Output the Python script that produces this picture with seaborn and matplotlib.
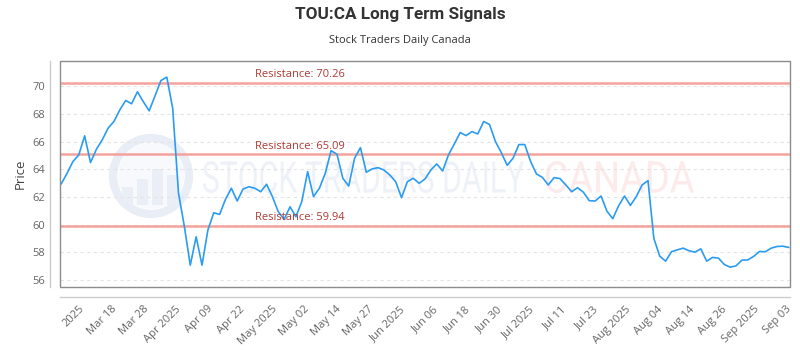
import matplotlib
matplotlib.use("Agg")
import matplotlib.pyplot as plt
import matplotlib.patches as mpatches
from matplotlib.textpath import TextPath
from matplotlib.font_manager import FontProperties
from matplotlib.transforms import Affine2D
import numpy as np
import pandas as pd
import seaborn as sns

# closing prices (trading days, Mar 2025 -> Sep 2025)
prices = [62.95, 63.72, 64.57, 65.05, 66.43, 64.50, 65.46, 66.14, 66.99, 67.47,
          68.31, 68.99, 68.75, 69.62, 68.90, 68.24, 69.33, 70.43, 70.68, 68.43,
          62.27, 59.86, 57.08, 59.13, 57.08, 59.62, 60.87, 60.75, 61.84, 62.64,
          61.72, 62.59, 62.75, 62.64, 62.39, 62.93, 62.03, 60.94, 60.39, 61.30,
          60.58, 61.67, 63.84, 62.03, 62.64, 63.72, 65.36, 65.10, 63.36, 62.80,
          64.81, 65.58, 63.80, 64.04, 64.13, 63.96, 63.60, 63.12, 61.96, 63.12,
          63.36, 63.00, 63.31, 63.96, 64.40, 63.89, 65.05, 65.85, 66.67, 66.45,
          66.74, 66.57, 67.47, 67.25, 66.02, 65.22, 64.30, 64.81, 65.80, 65.80,
          64.57, 63.67, 63.43, 62.88, 63.41, 63.34, 62.88, 62.39, 62.68, 62.35,
          61.74, 61.72, 62.08, 60.99, 60.44, 61.38, 62.08, 61.40, 62.03, 62.88,
          63.19, 59.01, 57.73, 57.37, 58.05, 58.19, 58.31, 58.12, 58.02, 58.26,
          57.37, 57.64, 57.59, 57.13, 56.93, 57.03, 57.44, 57.46, 57.71, 58.07,
          58.05, 58.31, 58.43, 58.45, 58.36]

resistance = [70.26, 65.09, 59.94]

tick_labels = ["2025", "Mar 18", "Mar 28", "Apr 2025", "Apr 09", "Apr 22",
               "May 2025", "May 02", "May 14", "May 27", "Jun 2025", "Jun 06",
               "Jun 18", "Jun 30", "Jul 2025", "Jul 11", "Jul 23", "Aug 2025",
               "Aug 04", "Aug 14", "Aug 26", "Sep 2025", "Sep 03"]

df = pd.DataFrame({"day": np.arange(len(prices)), "price": prices})

sns.set_style("white")
plt.rcParams['font.family'] = ['Open Sans', 'DejaVu Sans']

fig = plt.figure(figsize=(8, 3.5), dpi=100)
ax = fig.add_axes([0.075, 0.18, 0.9125, 0.646])

# offset axis lines first (set_position resets the ticks)
for side in ["top", "right"]:
    ax.spines[side].set_visible(False)
for side in ["left", "bottom"]:
    ax.spines[side].set_position(("outward", 7))
    ax.spines[side].set_color("#cccccc")
    ax.spines[side].set_linewidth(1)


def watermark(text, x0, x1, ytop, ybot, color):
    # squeeze the word into a pixel box (narrow lettering like the logo)
    tp = TextPath((0, 0), text, size=1, prop=FontProperties(family="Roboto"))
    ext = tp.get_extents()
    sx = (x1 - x0) / ext.width
    sy = (ybot - ytop) / ext.height
    tr = (Affine2D().translate(-ext.x0, -ext.y0).scale(sx, sy)
          .translate(x0, 350 - ybot).scale(1 / 100) + fig.dpi_scale_trans)
    fig.patches.append(mpatches.PathPatch(tp, transform=tr, facecolor=color,
                                          edgecolor="none", zorder=-1))


logo = mpatches.Ellipse((151 / 800, 1 - 176 / 350), 76 / 800, 76 / 350,
                        transform=fig.transFigure, fill=False,
                        edgecolor="#e9eef6", linewidth=6, zorder=-1)
fig.patches.append(logo)
fig.patches.append(mpatches.Ellipse((151 / 800, 1 - 176 / 350), 66 / 800, 66 / 350,
                                    transform=fig.transFigure, facecolor="#f7f9fc",
                                    edgecolor="none", zorder=-1))
for bx, bh in [(122, 18), (137, 26), (152, 36), (167, 30)]:
    fig.patches.append(mpatches.Rectangle((bx / 800, 1 - 205 / 350), 11 / 800, bh / 350,
                                          transform=fig.transFigure,
                                          facecolor="#eaeef6", edgecolor="none", zorder=-1))
watermark("STOCK TRADERS DAILY", 203, 524, 161, 193, "#eef1f7")
watermark("CANADA", 546, 694, 161, 193, "#fdeaea")
ax.set_facecolor("none")

sns.lineplot(data=df, x="day", y="price", ax=ax, color="#2b9cf2", linewidth=1.2, zorder=3)

for r in resistance:
    ax.axhline(r, color="#f4a29c", linewidth=1.8, zorder=2)
    ax.text(33, r + 0.2, f"Resistance: {r:.2f}", color="#b03a35", fontsize=8,
            va="bottom", ha="left", zorder=4)

ax.set_xlim(-0.2, len(prices) - 0.8)
ax.set_ylim(55.5, 71.85)
ax.set_yticks(np.arange(56, 71, 2))
ax.set_xticks(np.linspace(3, 123.5, len(tick_labels)))
ax.set_xticklabels(tick_labels, rotation=45, ha="right", rotation_mode="anchor")
ax.tick_params(axis="both", colors="#666666", labelsize=8, length=0)
ax.tick_params(axis="x", pad=5)
ax.yaxis.grid(True, color="#e4e4e4", linestyle=(0, (3, 3)), linewidth=0.8)
ax.xaxis.grid(False)
ax.set_xlabel("")
ax.set_ylabel("Price", color="#444444", fontsize=9.5)

# plot box
box = mpatches.Rectangle((0, 0), 1, 1, transform=ax.transAxes, fill=False,
                         edgecolor="#8c8c8c", linewidth=1, zorder=5, clip_on=False)
ax.add_patch(box)

fig.text(0.5, 1 - 15 / 350, "TOU:CA Long Term Signals", ha="center", va="center",
         fontsize=12.3, fontweight="bold", color="#333333", family="Roboto")
fig.text(0.5, 1 - 40 / 350, "Stock Traders Daily Canada", ha="center", va="center",
         fontsize=8, color="#333333")

fig.savefig("out.png", dpi=100)
